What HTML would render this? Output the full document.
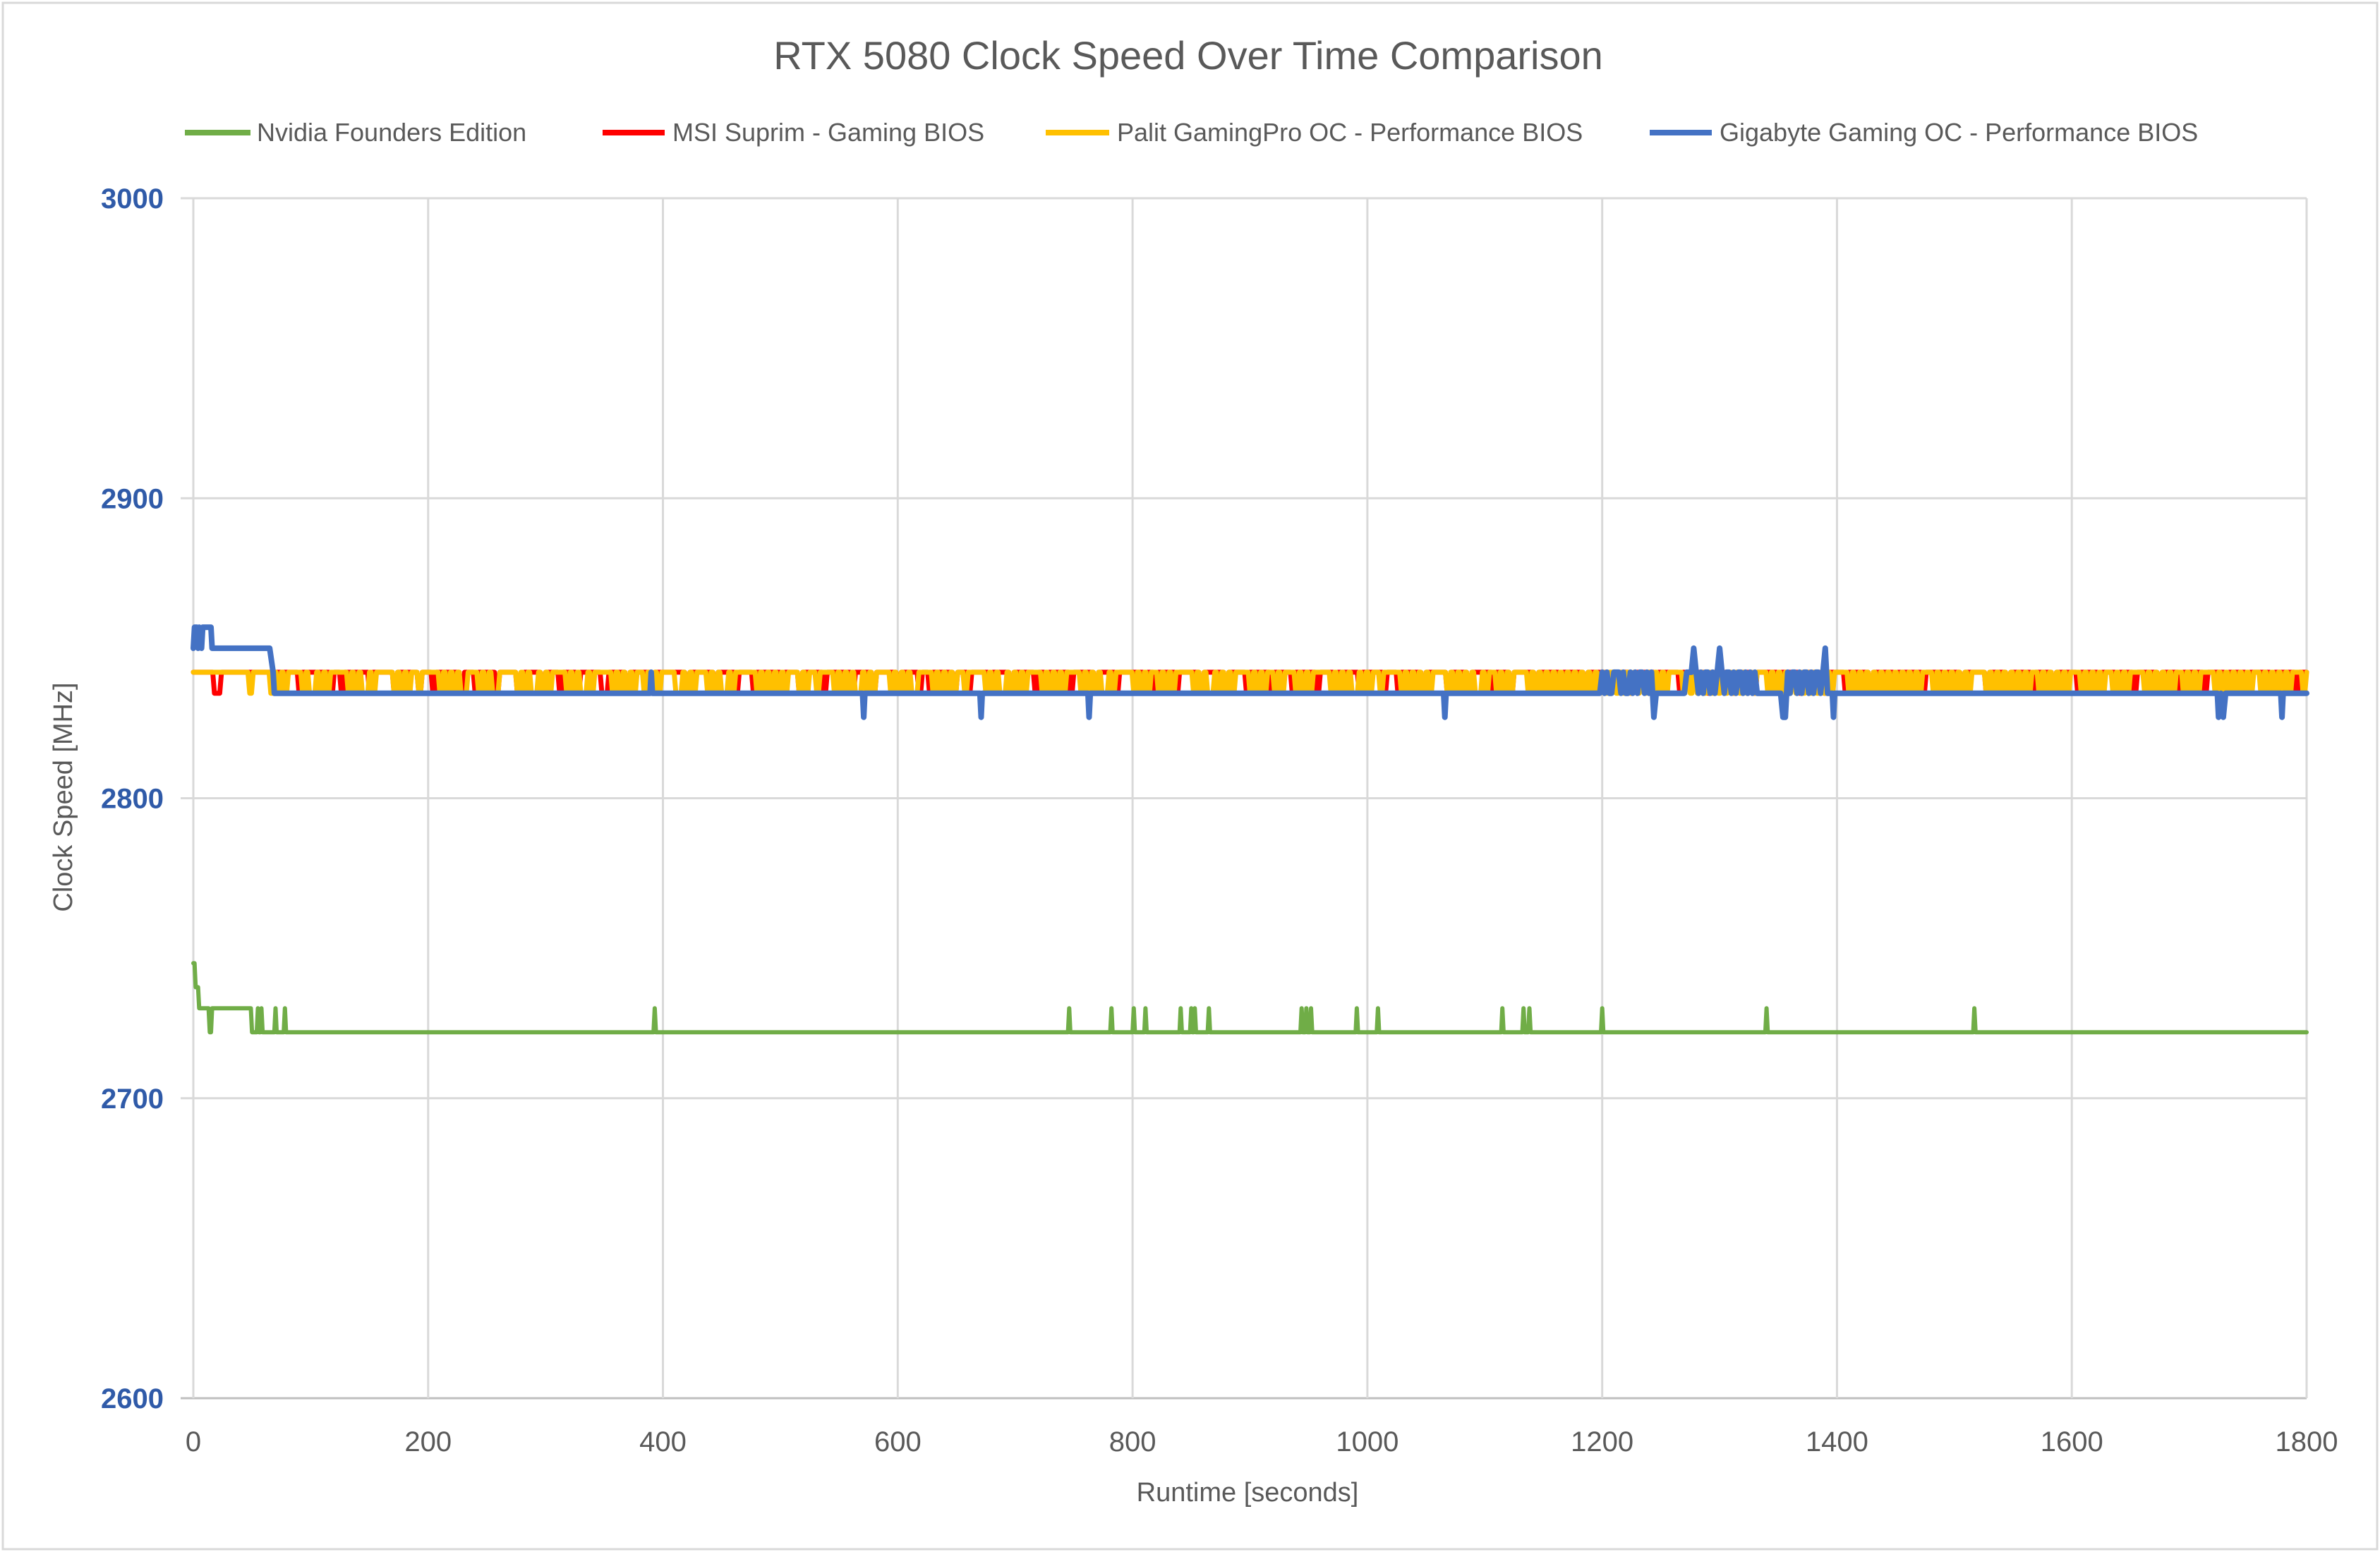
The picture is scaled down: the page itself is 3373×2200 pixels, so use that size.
<!DOCTYPE html>
<html><head><meta charset="utf-8"><style>
html,body{margin:0;padding:0;background:#fff;}
svg{display:block;font-family:"Liberation Sans",sans-serif;}
</style></head><body>
<svg id="chart" width="3373" height="2200" viewBox="0 0 3373 2200">
<rect x="4" y="4" width="3365" height="2192" fill="#fff" stroke="#d9d9d9" stroke-width="3"/>
<text x="1684" y="98" text-anchor="middle" font-size="56" fill="#595959">RTX 5080 Clock Speed Over Time Comparison</text>
<g>
<g><line x1="262" y1="188" x2="355" y2="188" stroke="#70ad47" stroke-width="8"/><text x="364" y="200" font-size="36" fill="#595959">Nvidia Founders Edition</text></g>
<g><line x1="854" y1="188" x2="942" y2="188" stroke="#ff0000" stroke-width="8"/><text x="953" y="200" font-size="36" fill="#595959">MSI Suprim - Gaming BIOS</text></g>
<g><line x1="1482" y1="188" x2="1572" y2="188" stroke="#ffc000" stroke-width="8"/><text x="1583" y="200" font-size="36" fill="#595959">Palit GamingPro OC - Performance BIOS</text></g>
<g><line x1="2338" y1="188" x2="2426" y2="188" stroke="#4472c4" stroke-width="8"/><text x="2437" y="200" font-size="36" fill="#595959">Gigabyte Gaming OC - Performance BIOS</text></g>
</g>
<g id="grid"></g>
<g id="yticks"></g>
<g id="xticks"></g>
<g id="series"></g>
<text x="0" y="0" transform="translate(102,1130) rotate(-90)" text-anchor="middle" font-size="38" fill="#595959">Clock Speed [MHz]</text>
<text x="1768" y="2128" text-anchor="middle" font-size="38" fill="#595959">Runtime [seconds]</text>
</svg>
<script>
const yTicks = [2600, 2700, 2800, 2900, 3000];
const xTicks = [0, 200, 400, 600, 800, 1000, 1200, 1400, 1600, 1800];
// Green: [time, MHz] change points
const greenPts = [[0,2745],[1,2745],[2,2737],[4,2737],[5,2730],[13,2730],[14,2722],[15,2722],[16,2730],[49,2730],[50,2722],[54,2722],[55,2730],[56,2722],[57,2722],[58,2730],[59,2722],[69,2722],[70,2730],[71,2722],[77,2722],[78,2730],[79,2722],[392,2722],[393,2730],[394,2722],[745,2722],[746,2730],[747,2722],[781,2722],[782,2730],[783,2722],[800,2722],[801,2730],[802,2722],[810,2722],[811,2730],[812,2722],[840,2722],[841,2730],[842,2722],[849,2722],[850,2730],[851,2722],[852,2722],[853,2730],[854,2722],[864,2722],[865,2730],[866,2722],[943,2722],[944,2730],[945,2722],[947,2722],[948,2730],[949,2722],[951,2722],[952,2730],[953,2722],[990,2722],[991,2730],[992,2722],[1008,2722],[1009,2730],[1010,2722],[1114,2722],[1115,2730],[1116,2722],[1132,2722],[1133,2730],[1134,2722],[1137,2722],[1138,2730],[1139,2722],[1199,2722],[1200,2730],[1201,2722],[1339,2722],[1340,2730],[1341,2722],[1516,2722],[1517,2730],[1518,2722],[1800,2722]];
// Yellow (Palit) 3-second samples: 1 = 2842, 0 = 2835 (first sample t=0)
const yellowBits =
"1111111111111111011111"+
"0101011110100101011111010100101111101010110111110101010011"+
"1010100111110101001010111101010010111110101010110101011110"+
"0101011101010010111111010101010111010110111101010100101011"+
"1101010100111101010101101111101010010101011110101010111101"+
"0101001011111010101101010111110101001010101111010101101011"+
"1010101111101010100101011011111010101010111101010101001011"+
"0101011110101010101010101010101011010101010101010111101010"+
"1010101010101010111010101010101010101011110101010101010101"+
"0101011101010101010111101010101010101101010101011101010101"+
"1010101111010101010110101011110101010101011010101010111010";
// Red (MSI) 3-second samples: 1 = 2842, 0 = 2835
const redBits =
"1111110011111111111111"+
"1111111101111111101101111111011111101111110111011111110111"+
"0111110111110011111011110111101111110011111011111101111111"+
"1101111111011111011110111111101111011111101111111011111011"+
"1111011111011011111101110111110111110111111011011111101111"+
"1101111101111111011011111011111101111110111110111111011111"+
"0111111011110111111011111101110111111011111101111101111110"+
"1111011111101111110111111011111101111101111110111111011111"+
"1101111110111110111111011111011111101111101111110111111011"+
"1111101111101111011111101111101111110111110111111011111011"+
"1101111011111101111101111110111110111110111111011111101111";
// Blue (Gigabyte) change points outside burst
const bluePts = [[0,2850],[1,2857],[3,2857],[4,2850],[5,2857],[7,2850],[8,2857],[15,2857],[16,2850],[65,2850],[68,2842],[69,2835],[389,2835],[390,2842],[391,2835],[570,2835],[571,2827],[572,2835],[670,2835],[671,2827],[672,2835],[762,2835],[763,2827],[764,2835],[1065,2835],[1066,2827],[1067,2835],[1198,2835]];
// Blue burst 1200-1390, 2-second samples: 0=2835, 1=2842, 2=2850, x=2827
const blueBurst = "1010011101001010110101x000000000000011121010110101210110101101010100000000000xx10110101101011012";
const blueTail = [[1392,2835],[1396,2835],[1397,2827],[1398,2835],[1724,2835],[1725,2827],[1727,2835],[1729,2827],[1731,2835],[1778,2835],[1779,2827],[1780,2835],[1800,2835]];

const L=274, R=3269, T=281, B=1982;
const xs = t => L + (t/1800)*(R-L);
const ys = v => B - (v-2600)/400*(B-T);
const NS="http://www.w3.org/2000/svg";
const grid=document.getElementById('grid');
yTicks.forEach(v=>{
  const ln=document.createElementNS(NS,'line');
  ln.setAttribute('x1',L-18);ln.setAttribute('x2',R);ln.setAttribute('y1',ys(v));ln.setAttribute('y2',ys(v));
  ln.setAttribute('stroke',v===2600?'#bfbfbf':'#d9d9d9');ln.setAttribute('stroke-width',3);
  
  
  grid.appendChild(ln);
  const tx=document.createElementNS(NS,'text');
  tx.setAttribute('x',232);tx.setAttribute('y',ys(v)+14);tx.setAttribute('text-anchor','end');
  tx.setAttribute('font-size','40');tx.setAttribute('font-weight','bold');tx.setAttribute('fill','#2f5aa8');
  tx.textContent=v;
  
  
  document.getElementById('yticks').appendChild(tx);
});
xTicks.forEach(t=>{
  const ln=document.createElementNS(NS,'line');
  ln.setAttribute('x1',xs(t));ln.setAttribute('x2',xs(t));ln.setAttribute('y1',T);ln.setAttribute('y2',B);
  ln.setAttribute('stroke','#d9d9d9');ln.setAttribute('stroke-width',3);
  
  
  grid.appendChild(ln);
  const tx=document.createElementNS(NS,'text');
  tx.setAttribute('x',xs(t));tx.setAttribute('y',2057);tx.setAttribute('text-anchor','middle');
  tx.setAttribute('font-size','40');tx.setAttribute('fill','#595959');
  tx.textContent=t;
  
  
  document.getElementById('xticks').appendChild(tx);
});
function bitsToPts(bits, step, hi, lo){
  const p=[];
  for(let i=0;i<bits.length;i++){
    const t=i*step; if(t>1800)break;
    const v=bits[i]==='1'?hi:lo;
    p.push([t,v]); p.push([Math.min(1800,t+step*0.5),v]);
  }
  return p;
}
function drawPath(pts,color,w,name){
  const d=pts.map((p,i)=>(i?'L':'M')+xs(p[0]).toFixed(1)+' '+ys(p[1]).toFixed(1)).join(' ');
  const path=document.createElementNS(NS,'path');
  path.setAttribute('d',d);path.setAttribute('fill','none');path.setAttribute('stroke',color);
  path.setAttribute('stroke-width',w);path.setAttribute('stroke-linejoin','round');path.setAttribute('stroke-linecap','round');
  
  
  document.getElementById('series').appendChild(path);
}
const burstMap={'0':2835,'1':2842,'2':2850,'x':2827};
const bluePoints=bluePts.slice();
for(let i=0;i<blueBurst.length;i++) bluePoints.push([1200+2*i,burstMap[blueBurst[i]]]);
blueTail.forEach(p=>bluePoints.push(p));
drawPath(greenPts,'#70ad47',6,'series-nvidia-founders-edition');
drawPath(bitsToPts(redBits,3,2842,2835),'#ff0000',7,'series-msi-suprim');
drawPath(bitsToPts(yellowBits,3,2842,2835),'#ffc000',7,'series-palit-gamingpro');
drawPath(bluePoints,'#4472c4',8,'series-gigabyte-gaming-oc');
</script>
</body></html>
